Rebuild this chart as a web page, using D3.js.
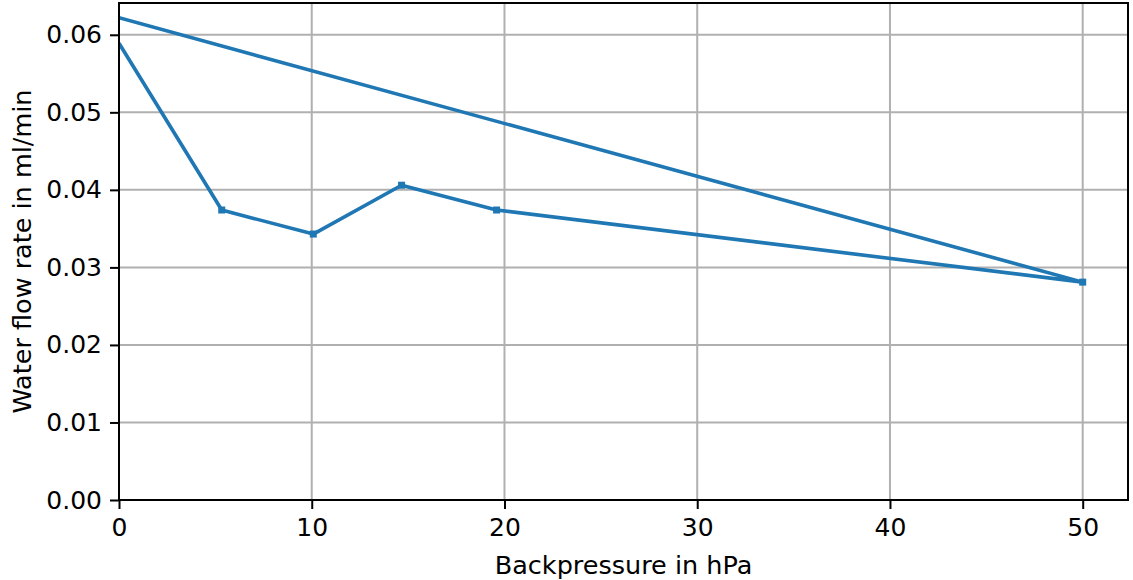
<!DOCTYPE html>
<meta charset="utf-8"/>
<title>Water flow rate vs backpressure</title>
<style>
    body { margin: 0; background: #fff; }
    text { font-family: "DejaVu Sans", sans-serif; fill: #000; }
    .grid line { stroke: #b0b0b0; stroke-width: 2px; }
</style>
<script src="https://cdn.jsdelivr.net/npm/d3@7"></script>
<svg id="chart" width="1133" height="580"></svg>
<script>
"use strict";

// measurement order as plotted (one polyline, returns to x=0)
const pressure = [0, 5.33, 10.08, 14.66, 19.59, 50, 0];
const flowRate = [0.0589, 0.0374, 0.0343, 0.0406, 0.0374, 0.0281, 0.0622];
const xTicks = [0, 10, 20, 30, 40, 50];
const yTicks = [0, 0.01, 0.02, 0.03, 0.04, 0.05, 0.06];

const margin = {left: 119, top: 3, right: 5, bottom: 80};
const width = 1133, height = 580;

const x = d3.scaleLinear().domain([0, 52.35]).range([margin.left, width - margin.right]);
const y = d3.scaleLinear().domain([0, 0.0641]).range([height - margin.bottom, margin.top]);

const svg = d3.select("#chart");
const points = pressure.map(function (p, i) { return [p, flowRate[i]]; });

svg.append("defs").append("clipPath").attr("id", "plot")
    .append("rect")
    .attr("x", x.range()[0]).attr("y", y.range()[1])
    .attr("width", x.range()[1] - x.range()[0])
    .attr("height", y.range()[0] - y.range()[1]);

// grid
const grid = svg.append("g").attr("class", "grid");
grid.selectAll(".gx").data(xTicks).enter().append("line")
    .attr("x1", x).attr("x2", x)
    .attr("y1", y.range()[0]).attr("y2", y.range()[1]);
grid.selectAll(".gy").data(yTicks).enter().append("line")
    .attr("x1", x.range()[0]).attr("x2", x.range()[1])
    .attr("y1", y).attr("y2", y);

// data line + square markers
const plot = svg.append("g").attr("clip-path", "url(#plot)");
plot.append("path")
    .datum(points)
    .attr("fill", "none")
    .attr("stroke", "#1f77b4")
    .attr("stroke-width", 3.6)
    .attr("stroke-linejoin", "round")
    .attr("d", d3.line().x(function (d) { return x(d[0]); }).y(function (d) { return y(d[1]); }));
plot.selectAll("rect.mk").data(points.filter(function (d) { return d[0] > 0; })).enter().append("rect")
    .attr("class", "mk")
    .attr("x", function (d) { return x(d[0]) - 3.5; })
    .attr("y", function (d) { return y(d[1]) - 3.5; })
    .attr("width", 7).attr("height", 7)
    .attr("fill", "#1f77b4");

// axes
const xAxis = svg.append("g")
    .attr("transform", "translate(0," + y.range()[0] + ")")
    .call(d3.axisBottom(x).tickValues(xTicks).tickFormat(d3.format("d")).tickSizeInner(9).tickSizeOuter(0).tickPadding(9));
const yAxis = svg.append("g")
    .attr("transform", "translate(" + x.range()[0] + ",0)")
    .call(d3.axisLeft(y).tickValues(yTicks).tickFormat(d3.format(".2f")).tickSizeInner(9).tickSizeOuter(0).tickPadding(8));
[xAxis, yAxis].forEach(function (a) {
    a.select(".domain").remove();
    a.selectAll("line").attr("stroke", "#000").attr("stroke-width", 2);
    a.selectAll("text").attr("font-size", 25).attr("font-family", "DejaVu Sans");
});

// frame
svg.append("rect")
    .attr("x", x.range()[0]).attr("y", y.range()[1])
    .attr("width", x.range()[1] - x.range()[0])
    .attr("height", y.range()[0] - y.range()[1])
    .attr("fill", "none").attr("stroke", "#000").attr("stroke-width", 2);

// labels
svg.append("text")
    .attr("x", (x.range()[0] + x.range()[1]) / 2)
    .attr("y", 574)
    .attr("text-anchor", "middle")
    .attr("font-size", 25.5)
    .text("Backpressure in hPa");
svg.append("text")
    .attr("transform", "translate(31," + (y.range()[0] + y.range()[1]) / 2 + ") rotate(-90)")
    .attr("text-anchor", "middle")
    .attr("font-size", 25.5)
    .text("Water flow rate in ml/min");
</script>
